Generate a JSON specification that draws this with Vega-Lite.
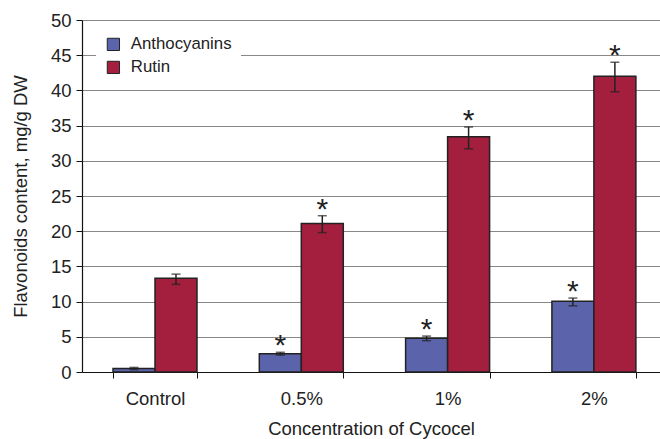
{
  "$schema": "https://vega.github.io/schema/vega-lite/v6.json",
  "autosize": "none",
  "width": 578,
  "height": 352,
  "padding": {"left": 82, "top": 20, "right": 0, "bottom": 67},
  "background": "white",
  "config": {
    "font": "Liberation Sans",
    "view": {"stroke": null},
    "axis": {"labelFont": "Liberation Sans", "titleFont": "Liberation Sans", "labelColor": "#222", "titleColor": "#222", "titleFontWeight": "normal"},
    "axisY": {
      "title": "Flavonoids content, mg/g DW", "titleFontSize": 18.5, "titlePadding": 20,
      "values": [0, 5, 10, 15, 20, 25, 30, 35, 40, 45, 50],
      "labelFontSize": 18.5, "labelPadding": 5, "tickSize": 6, "tickColor": "#111",
      "domainColor": "#111", "domainWidth": 1.2,
      "grid": true, "gridColor": "#888", "gridWidth": 1.2
    }
  },
  "data": {
    "values": [
      {"cat": "Control", "series": "Anthocyanins", "value": 0.5, "lo": 0.35, "hi": 0.65, "sig": ""},
      {"cat": "Control", "series": "Rutin", "value": 13.3, "lo": 12.45, "hi": 13.9, "sig": ""},
      {"cat": "0.5%", "series": "Anthocyanins", "value": 2.6, "lo": 2.4, "hi": 2.8, "sig": "*"},
      {"cat": "0.5%", "series": "Rutin", "value": 21.1, "lo": 19.8, "hi": 22.2, "sig": "*"},
      {"cat": "1%", "series": "Anthocyanins", "value": 4.8, "lo": 4.45, "hi": 5.1, "sig": "*"},
      {"cat": "1%", "series": "Rutin", "value": 33.4, "lo": 31.7, "hi": 34.8, "sig": "*"},
      {"cat": "2%", "series": "Anthocyanins", "value": 10.05, "lo": 9.4, "hi": 10.5, "sig": "*"},
      {"cat": "2%", "series": "Rutin", "value": 42.0, "lo": 39.8, "hi": 44.0, "sig": "*"}
    ]
  },
  "encoding": {
    "x": {
      "field": "cat", "type": "nominal", "sort": ["Control", "0.5%", "1%", "2%"],
      "scale": {"paddingInner": 0.426, "paddingOuter": 0.1884, "align": 0.5626},
      "axis": {
        "title": "Concentration of Cycocel", "titleFontSize": 18.5, "titlePadding": 12,
        "labelAngle": 0, "labelFontSize": 18.5, "labelPadding": 11,
        "tickBand": "extent", "tickSize": 6, "tickColor": "#111", "domainColor": "#111", "domainWidth": 1.2,
        "grid": false
      }
    },
    "xOffset": {"field": "series", "type": "nominal", "sort": ["Anthocyanins", "Rutin"], "scale": {"paddingInner": 0, "paddingOuter": 0}}
  },
  "layer": [
    {
      "mark": {"type": "bar", "stroke": "#222", "strokeWidth": 1.5},
      "encoding": {
        "y": {
          "field": "value", "type": "quantitative",
          "scale": {"domain": [0, 50], "nice": false},
          "title": "Flavonoids content, mg/g DW"
        },
        "color": {
          "field": "series", "type": "nominal", "sort": ["Anthocyanins", "Rutin"],
          "scale": {"domain": ["Anthocyanins", "Rutin"], "range": ["#5b64ab", "#a41f3d"]},
          "legend": {
            "title": null, "orient": "none", "legendX": 14, "legendY": 7,
            "fillColor": "white", "padding": 9, "symbolType": "square", "symbolSize": 150,
            "symbolStrokeColor": "#222", "symbolStrokeWidth": 1, "symbolOpacity": 1,
            "labelFontSize": 16.8, "labelFont": "Liberation Sans", "labelColor": "#222",
            "rowPadding": 5, "labelOffset": 9
          }
        }
      }
    },
    {
      "mark": {"type": "rule", "color": "#222", "strokeWidth": 1.5},
      "encoding": {"y": {"field": "lo", "type": "quantitative", "title": "Flavonoids content, mg/g DW"}, "y2": {"field": "hi"}}
    },
    {
      "mark": {"type": "tick", "color": "#222", "thickness": 1.5, "size": 9, "orient": "horizontal"},
      "encoding": {"y": {"field": "lo", "type": "quantitative", "title": "Flavonoids content, mg/g DW"}}
    },
    {
      "mark": {"type": "tick", "color": "#222", "thickness": 1.5, "size": 9, "orient": "horizontal"},
      "encoding": {"y": {"field": "hi", "type": "quantitative", "title": "Flavonoids content, mg/g DW"}}
    },
    {
      "mark": {"type": "text", "fontSize": 30, "baseline": "alphabetic", "dy": 3, "color": "#222", "font": "Liberation Sans"},
      "encoding": {"y": {"field": "hi", "type": "quantitative", "title": "Flavonoids content, mg/g DW"}, "text": {"field": "sig"}}
    }
  ]
}
